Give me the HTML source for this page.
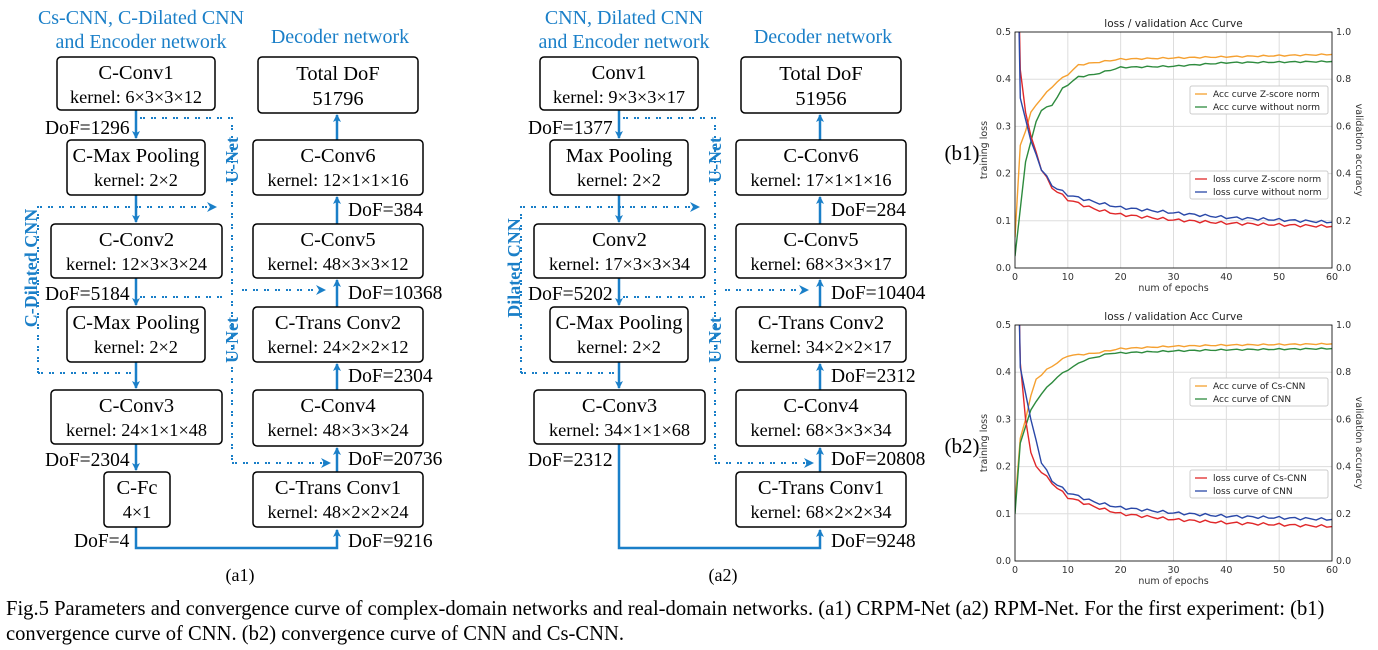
<!DOCTYPE html>
<html><head><meta charset="utf-8"><style>
html,body{margin:0;padding:0;background:#fff;width:1378px;height:650px;overflow:hidden}
svg text{font-family:"Liberation Serif",serif}
.s text{font-family:"DejaVu Sans","Liberation Sans",sans-serif}
</style></head><body>
<svg id="svg" width="1378" height="650" xmlns="http://www.w3.org/2000/svg">
<defs>
<marker id="ar" markerWidth="8" markerHeight="8" refX="7" refY="4" orient="auto" markerUnits="userSpaceOnUse"><path d="M0,0 L8,4 L0,8 L2,4 z" fill="#1a7fc8"/></marker>
<marker id="ad" markerWidth="10" markerHeight="10" refX="9" refY="5" orient="auto" markerUnits="userSpaceOnUse"><path d="M0,0 L10,5 L0,10 L3,5 z" fill="#1a7fc8"/></marker>
</defs>
<g id="g"></g>
<g id="c" class="s"></g>
<text x="6" y="615" font-size="20.6">Fig.5 Parameters and convergence curve of complex-domain networks and real-domain networks. (a1) CRPM-Net (a2) RPM-Net. For the first experiment: (b1)</text>
<text x="6" y="640" font-size="20.6">convergence curve of CNN. (b2) convergence curve of CNN and Cs-CNN.</text>
</svg>
<script>
const B='#1a7fc8';let h='';
function box(x1,y1,x2,y2,t1,t2){const cx=(x1+x2)/2;h+=`<rect x="${x1}" y="${y1}" width="${x2-x1}" height="${y2-y1}" rx="4" fill="#fff" stroke="#000" stroke-width="1.5"/><text x="${cx}" y="${y1+22}" font-size="20.5" text-anchor="middle">${t1}</text><text x="${cx}" y="${y1+46}" font-size="18.3" text-anchor="middle">${t2}</text>`;}
function t(x,y,s,sz=19.5,c='#000',a='start'){h+=`<text x="${x}" y="${y}" font-size="${sz}" fill="${c}" text-anchor="${a}">${s}</text>`;}
function ln(pts,arrow){h+=`<polyline points="${pts}" fill="none" stroke="${B}" stroke-width="2.5" ${arrow?'marker-end="url(#ar)"':''}/>`;}
function dl(pts,arrow){h+=`<polyline points="${pts}" fill="none" stroke="${B}" stroke-width="2" stroke-dasharray="2,1,2,6" ${arrow?'marker-end="url(#ad)"':''}/>`;}
function rot(x,y,s){h+=`<text x="${x}" y="${y}" font-size="18" font-weight="bold" fill="${B}" text-anchor="middle" transform="rotate(-90 ${x} ${y})">${s}</text>`;}
function net(o,L,R,D,a2){
 const lx=136+o,rx=337+o;
 if(!a2){t(141+o,24,'Cs-CNN, C-Dilated CNN',20,B,'middle');t(141+o,48,'and Encoder network',20,B,'middle');}
 else{t(141+o,24,'CNN, Dilated CNN',20,B,'middle');t(141+o,48,'and Encoder network',20,B,'middle');}
 t(340+o,43,'Decoder network',20,B,'middle');
 dl(`${140+o},118 ${232+o},118 ${232+o},460`);
 dl(`${38+o},373 ${38+o},207 ${216+o},207`,1);
 dl(`${140+o},297 ${228+o},297`);dl(`${242+o},290 ${325+o},290`,1);
 dl(`${38+o},373 ${136+o},373`);
 dl(`${232+o},463 ${330+o},463`,1);
 ln(`${lx},110 ${lx},138`,1);ln(`${lx},195 ${lx},222`,1);ln(`${lx},278 ${lx},305`,1);ln(`${lx},362 ${lx},388`,1);
 if(!a2){ln(`${lx},444 ${lx},470`,1);ln(`${lx},527 ${lx},548 ${rx},548 ${rx},530`,1);}
 else ln(`${lx},444 ${lx},548 ${rx},548 ${rx},530`,1);
 ln(`${rx},140 ${rx},115`,1);ln(`${rx},224 ${rx},197`,1);ln(`${rx},307 ${rx},280`,1);ln(`${rx},390 ${rx},364`,1);ln(`${rx},472 ${rx},448`,1);
 L.forEach(b=>box(b[0]+o,b[1],b[2]+o,b[3],b[4],b[5]));
 R.forEach(b=>box(253+o,b[0],423+o,b[1],b[2],b[3]));
 D.forEach(d=>t(d[0]+o,d[1],d[2],19.5));
 rot(238+o,160,'U-Net');rot(238+o,340,'U-Net');rot(37+o,268,a2?'Dilated CNN':'C-Dilated CNN');
 t(240+o,581,a2?'(a2)':'(a1)',18,'#000','middle');
}
net(0,[[57,57,215,110,'C-Conv1','kernel: 6×3×3×12'],[67,140,205,195,'C-Max Pooling','kernel: 2×2'],[51,224,222,278,'C-Conv2','kernel: 12×3×3×24'],[67,307,205,362,'C-Max Pooling','kernel: 2×2'],[51,390,222,444,'C-Conv3','kernel: 24×1×1×48'],[104,472,170,527,'C-Fc','4×1']],
[[140,195,'C-Conv6','kernel: 12×1×1×16'],[224,278,'C-Conv5','kernel: 48×3×3×12'],[307,362,'C-Trans Conv2','kernel: 24×2×2×12'],[390,446,'C-Conv4','kernel: 48×3×3×24'],[472,527,'C-Trans Conv1','kernel: 48×2×2×24']],
[[45,134,'DoF=1296'],[45,300,'DoF=5184'],[45,466,'DoF=2304'],[74,547,'DoF=4'],[348,216,'DoF=384'],[348,299,'DoF=10368'],[348,382,'DoF=2304'],[348,465,'DoF=20736'],[348,547,'DoF=9216']],0);
h+=`<rect x="258" y="57" width="160" height="56" rx="4" fill="#fff" stroke="#000" stroke-width="1.5"/>`;t(338,80,'Total DoF',20.5,'#000','middle');t(338,105,'51796',20.5,'#000','middle');
net(483,[[57,57,215,110,'Conv1','kernel: 9×3×3×17'],[67,140,205,195,'Max Pooling','kernel: 2×2'],[51,224,222,278,'Conv2','kernel: 17×3×3×34'],[67,307,205,362,'C-Max Pooling','kernel: 2×2'],[51,390,222,444,'C-Conv3','kernel: 34×1×1×68']],
[[140,195,'C-Conv6','kernel: 17×1×1×16'],[224,278,'C-Conv5','kernel: 68×3×3×17'],[307,362,'C-Trans Conv2','kernel: 34×2×2×17'],[390,446,'C-Conv4','kernel: 68×3×3×34'],[472,527,'C-Trans Conv1','kernel: 68×2×2×34']],
[[45,134,'DoF=1377'],[45,300,'DoF=5202'],[45,466,'DoF=2312'],[348,216,'DoF=284'],[348,299,'DoF=10404'],[348,382,'DoF=2312'],[348,465,'DoF=20808'],[348,547,'DoF=9248']],1);
h+=`<rect x="741" y="57" width="160" height="56" rx="4" fill="#fff" stroke="#000" stroke-width="1.5"/>`;t(821,80,'Total DoF',20.5,'#000','middle');t(821,105,'51956',20.5,'#000','middle');
document.getElementById('g').innerHTML=h;

let c='';
function chart(top,lab,series,lg1,lg2,lgy1,lgy2){
 const L=1015,R=1332,bot=top+236,X=e=>L+e*(R-L)/60,YL=v=>bot-v*472,YA=a=>bot-a*236;
 c+=`<text x="962" y="${top+128}" font-size="21" text-anchor="middle" style="font-family:'Liberation Serif',serif">${lab}</text>`;
 for(let i=0;i<=6;i++){const x=X(i*10);c+=`<line x1="${x}" y1="${top}" x2="${x}" y2="${bot}" stroke="#ddd"/>`;c+=`<text x="${x}" y="${bot+12}" font-size="9.5" text-anchor="middle" fill="#333">${i*10}</text>`;}
 for(let i=0;i<=5;i++){const y=YL(i/10);c+=`<line x1="${L}" y1="${y}" x2="${R}" y2="${y}" stroke="#ddd"/>`;c+=`<text x="${L-4}" y="${y+3}" font-size="9.5" text-anchor="end" fill="#333">${(i/10).toFixed(1)}</text>`;c+=`<text x="${R+4}" y="${y+3}" font-size="9.5" fill="#333">${(i/5).toFixed(1)}</text>`;}
 c+=`<text x="${(L+R)/2}" y="${top-5}" font-size="10.5" text-anchor="middle" fill="#222">loss / validation Acc Curve</text>`;
 c+=`<text x="${(L+R)/2}" y="${bot+23}" font-size="9.5" text-anchor="middle" fill="#333">num of epochs</text>`;
 c+=`<text x="0" y="0" font-size="9.5" text-anchor="middle" fill="#333" transform="translate(${L-28},${top+118}) rotate(-90)">training loss</text>`;
 c+=`<text x="0" y="0" font-size="9.5" text-anchor="middle" fill="#333" transform="translate(${R+24},${top+118}) rotate(90)">validation accuracy</text>`;
 c+=`<clipPath id="cp${top}"><rect x="${L}" y="${top}" width="${R-L}" height="236"/></clipPath><g clip-path="url(#cp${top})">`;
 series.forEach(s=>{const p=[];for(let i=0;i<s.d.length-1;i++){const [e0,v0]=s.d[i],[e1,v1]=s.d[i+1];for(let e=e0;e<e1;e+=1){const v=v0+(v1-v0)*(e-e0)/(e1-e0)+(e>3?(Math.sin(e*2.3)*0.003):0);p.push(X(e)+','+(s.acc?YA(v):YL(v)));}}const [el,vl]=s.d[s.d.length-1];p.push(X(el)+','+(s.acc?YA(vl):YL(vl)));c+=`<polyline points="${p.join(' ')}" fill="none" stroke="${s.col}" stroke-width="1.4"/>`;});
 c+='</g>';
 c+=`<rect x="${L}" y="${top}" width="${R-L}" height="236" fill="none" stroke="#000" stroke-width="0.8"/>`;
 [[lgy1,lg1],[lgy2,lg2]].forEach(([y,l])=>{c+=`<rect x="1190" y="${y}" width="138" height="28" fill="#fff" stroke="#ccc" rx="2"/>`;l.forEach((it,i)=>{c+=`<line x1="1195" y1="${y+8+i*13}" x2="1207" y2="${y+8+i*13}" stroke="${it[0]}" stroke-width="1.3"/><text x="1213" y="${y+11+i*13}" font-size="9" fill="#222">${it[1]}</text>`;});});
}
const O='#f5a030',G='#2e8b3e',Rd='#e0282a',Bl='#2a48a8';
chart(32,'(b1)',[
{col:O,acc:1,d:[[0,0.13],[1,0.52],[2,0.58],[3,0.66],[5,0.72],[8,0.79],[10,0.82],[12,0.86],[15,0.87],[20,0.885],[30,0.89],[40,0.895],[60,0.905]]},
{col:G,acc:1,d:[[0,0.05],[2,0.45],[4,0.62],[5,0.67],[7,0.69],[9,0.76],[12,0.81],[15,0.82],[20,0.85],[30,0.855],[40,0.87],[60,0.875]]},
{col:Rd,d:[[0,1],[1,0.42],[2,0.33],[3,0.28],[5,0.21],[7,0.17],[10,0.145],[15,0.125],[20,0.113],[30,0.102],[40,0.095],[60,0.088]]},
{col:Bl,d:[[0,1],[1,0.36],[3,0.27],[5,0.21],[7,0.175],[10,0.155],[15,0.14],[20,0.128],[30,0.117],[40,0.107],[60,0.097]]}],
[[O,'Acc curve Z-score norm'],[G,'Acc curve without norm']],[[Rd,'loss curve Z-score norm'],[Bl,'loss curve without norm']],86,171);
chart(325,'(b2)',[
{col:O,acc:1,d:[[0,0.24],[1,0.52],[2,0.6],[3,0.7],[4,0.77],[6,0.81],[8,0.84],[10,0.87],[15,0.88],[20,0.9],[30,0.91],[40,0.915],[60,0.92]]},
{col:G,acc:1,d:[[0,0.2],[1,0.5],[2,0.57],[3,0.64],[5,0.71],[8,0.78],[10,0.81],[13,0.85],[18,0.88],[30,0.89],[40,0.895],[60,0.9]]},
{col:Rd,d:[[0,1],[1,0.42],[2,0.3],[3,0.23],[4,0.2],[5,0.19],[7,0.165],[10,0.135],[15,0.115],[20,0.1],[30,0.088],[40,0.081],[60,0.073]]},
{col:Bl,d:[[0,1],[1,0.41],[3,0.3],[5,0.21],[7,0.17],[10,0.145],[15,0.125],[20,0.113],[30,0.102],[40,0.095],[60,0.088]]}],
[[O,'Acc curve of Cs-CNN'],[G,'Acc curve of CNN']],[[Rd,'loss curve of Cs-CNN'],[Bl,'loss curve of CNN']],378,470);
document.getElementById('c').innerHTML=c;
</script>
</body></html>
